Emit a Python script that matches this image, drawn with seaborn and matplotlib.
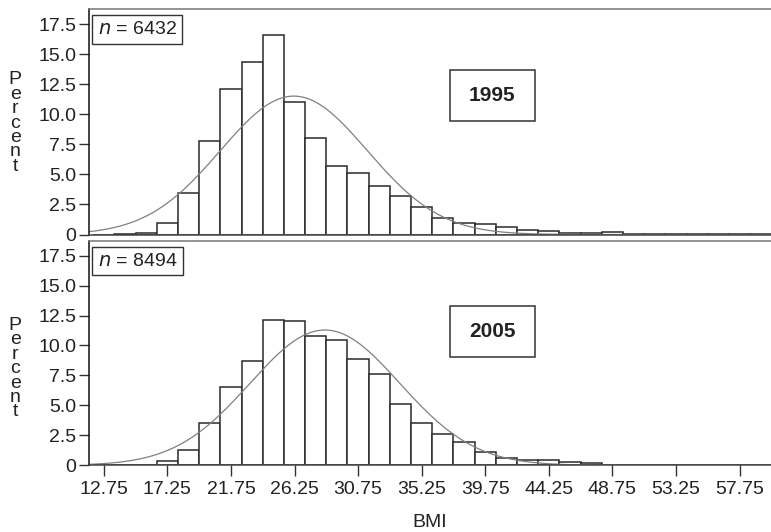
import numpy as np
import pandas as pd
import matplotlib
matplotlib.use("Agg")
import matplotlib.pyplot as plt
from matplotlib.patches import Rectangle
import seaborn as sns

# bin centres (BMI), width 1.5
bmi_mid = [12.75, 14.25, 15.75, 17.25, 18.75, 20.25, 21.75, 23.25, 24.75, 26.25,
           27.75, 29.25, 30.75, 32.25, 33.75, 35.25, 36.75, 38.25, 39.75, 41.25,
           42.75, 44.25, 45.75, 47.25, 48.75, 50.25, 51.75, 53.25, 54.75, 56.25,
           57.75, 59.25]

pct_1995 = [0.0, 0.05, 0.15, 0.95, 3.45, 7.8, 12.1, 14.35, 16.6, 11.0,
            8.05, 5.7, 5.1, 4.0, 3.2, 2.25, 1.35, 0.95, 0.85, 0.6,
            0.35, 0.27, 0.1, 0.1, 0.2, 0.03, 0.03, 0.02, 0.02, 0.02,
            0.02, 0.02]

pct_2005 = [0.03, 0.03, 0.05, 0.35, 1.3, 3.55, 6.5, 8.7, 12.15, 12.05,
            10.8, 10.5, 8.85, 7.6, 5.15, 3.5, 2.6, 1.95, 1.1, 0.65,
            0.45, 0.42, 0.25, 0.17, 0.02, 0.02, 0.02, 0.02, 0.02, 0.02,
            0.02, 0.02]

# fitted normal curves (mean, sd)
fit_1995 = (26.2, 5.2)
fit_2005 = (28.4, 5.3)

n_labels = ["6432", "8494"]
year_labels = ["1995", "2005"]

x_ticks = [12.75, 17.25, 21.75, 26.25, 30.75, 35.25, 39.75, 44.25, 48.75, 53.25, 57.75]
y_ticks = [0, 2.5, 5.0, 7.5, 10.0, 12.5, 15.0, 17.5]
y_ticklabels = ["0", "2.5", "5.0", "7.5", "10.0", "12.5", "15.0", "17.5"]

bw = 1.5
edges = [m - bw / 2 for m in bmi_mid] + [bmi_mid[-1] + bw / 2]

sns.set_style("white")
plt.rcParams['font.family'] = ['Liberation Sans', 'DejaVu Sans']
plt.rcParams['text.color'] = '#222222'

fig = plt.figure(figsize=(7.71, 5.32), dpi=100)
ax1 = fig.add_axes([0.1154, 0.5592, 0.885, 0.4239])
ax2 = fig.add_axes([0.1154, 0.1254, 0.885, 0.4222])

panels = [(ax1, pct_1995, fit_1995, 0.615, 0.494), (ax2, pct_2005, fit_2005, 0.597, 0.43)]

for i, (ax, pct, fit, yy, ly) in enumerate(panels):
    df = pd.DataFrame({"BMI": bmi_mid, "Percent": pct})
    sns.histplot(data=df, x="BMI", weights="Percent", bins=edges, ax=ax,
                 color="white", edgecolor="#2a2a2a", linewidth=1.1, alpha=1)

    mu, sd = fit
    xs = np.linspace(11.7, 60, 400)
    ys = 100 * bw / (sd * np.sqrt(2 * np.pi)) * np.exp(-0.5 * ((xs - mu) / sd) ** 2)
    sns.lineplot(x=xs, y=ys, ax=ax, color="#808080", linewidth=0.9)

    ax.set_xlim(11.7, 60)
    ax.set_ylim(0, 18.75)
    ax.set_yticks(y_ticks)
    ax.set_yticklabels(y_ticklabels)
    ax.tick_params(axis='y', direction='out', length=7, width=1, color='#333333',
                   labelsize=14, labelcolor='#222222', pad=2, left=True)

    ax.spines['right'].set_visible(False)
    ax.spines['left'].set_color('#111111')
    ax.spines['top'].set_color('#777777')
    ax.spines['bottom'].set_color('#444444')
    for s in ax.spines.values():
        s.set_linewidth(1.1)

    ax.set_ylabel("P\ne\nr\nc\ne\nn\nt", rotation=0, fontsize=14, linespacing=0.8,
                  color='#222222', va='center', ha='center')
    ax.yaxis.set_label_coords(-0.108, ly)

    # n = ... box
    ax.text(0.0125, 0.909, r"$\it{n}$ = " + n_labels[i], transform=ax.transAxes,
            fontsize=14, va='center', ha='left',
            bbox=dict(boxstyle='square,pad=0.3', fc='white', ec='#333333', lw=1))

    # year box
    ax.add_patch(Rectangle((0.529, yy - 0.113), 0.124, 0.226, transform=ax.transAxes,
                           fill=False, ec='#333333', lw=1.1))
    ax.text(0.591, yy, year_labels[i], transform=ax.transAxes, fontsize=15,
            fontweight='bold', ha='center', va='center')

ax1.set_xticks([])
ax1.set_xlabel("")

ax2.set_xticks(x_ticks)
ax2.set_xticklabels([f"{t:.2f}" for t in x_ticks])
ax2.tick_params(axis='x', direction='out', length=8, width=1, color='#333333',
                labelsize=14, labelcolor='#222222', pad=3, bottom=True)
ax2.set_xlabel("BMI", fontsize=14, color='#222222', labelpad=12)

fig.savefig("out.png", dpi=100)
